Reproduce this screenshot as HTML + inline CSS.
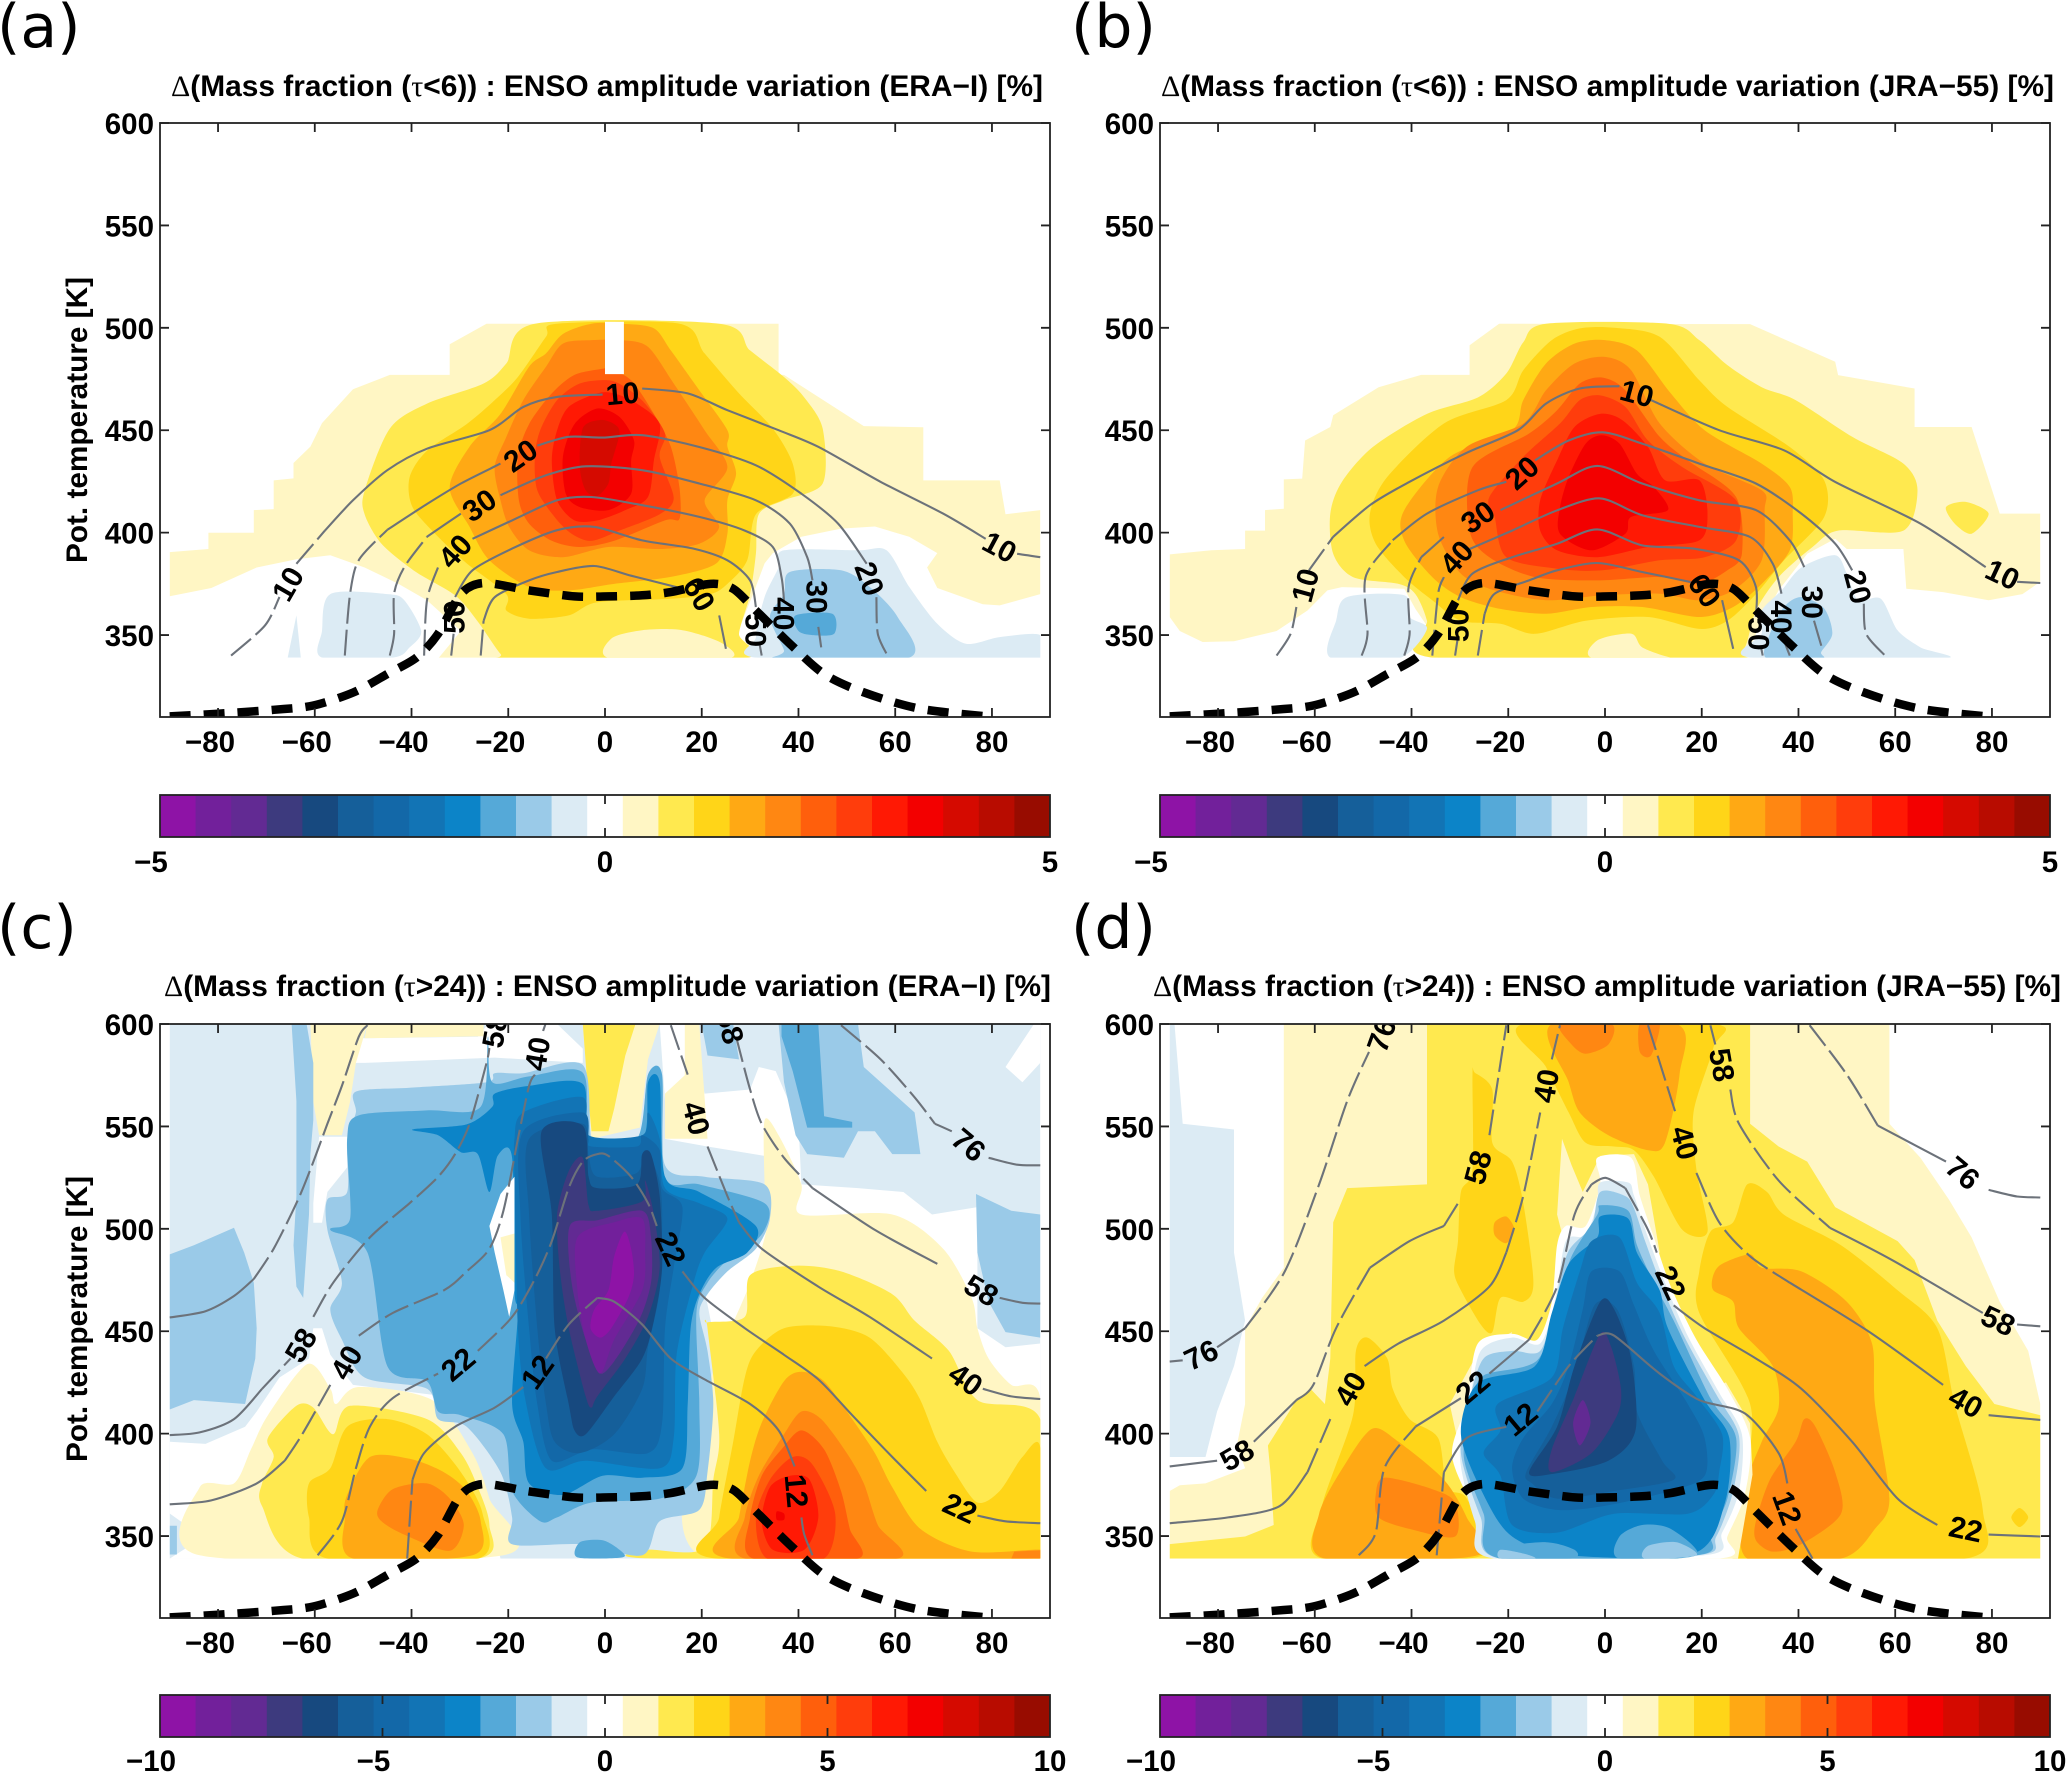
<!DOCTYPE html>
<html lang="en">
<head>
<meta charset="utf-8">
<title>ENSO amplitude variation of mass fraction</title>
<style>
html,body{margin:0;padding:0;background:#fff;}
svg{display:block;}
text{font-family:"Liberation Sans",sans-serif;font-weight:700;fill:#000;}
.tick{font-size:29.5px;}
.ttl{font-size:29.5px;}
.sym{font-family:"Liberation Serif",serif;font-weight:400;}
.ltr{font-family:"DejaVu Sans",sans-serif;font-weight:400;font-size:60px;}
.cl{font-size:30px;}
</style>
</head>
<body>
<svg id="figure" xmlns="http://www.w3.org/2000/svg" width="2067" height="1776" viewBox="0 0 2067 1776">
<rect width="2067" height="1776" fill="#fff"/>
<g id="panel-a">
<text class="ltr" x="-3" y="47">(a)</text>
<text class="ttl" x="171" y="96" textLength="872" lengthAdjust="spacingAndGlyphs"><tspan class="sym">Δ</tspan>(Mass fraction (<tspan class="sym">τ</tspan>&lt;6)) : ENSO amplitude variation (ERA−I) [%]</text>
<text class="ttl" transform="translate(87,420) rotate(-90)" text-anchor="middle" textLength="286" lengthAdjust="spacingAndGlyphs">Pot. temperature [K]</text>
</g>
<g id="panel-b">
<text class="ltr" x="1071" y="47">(b)</text>
<text class="ttl" x="1161" y="96" textLength="893" lengthAdjust="spacingAndGlyphs"><tspan class="sym">Δ</tspan>(Mass fraction (<tspan class="sym">τ</tspan>&lt;6)) : ENSO amplitude variation (JRA−55) [%]</text>
</g>
<g id="panel-c">
<text class="ltr" x="-3" y="948">(c)</text>
<text class="ttl" x="164" y="996" textLength="887" lengthAdjust="spacingAndGlyphs"><tspan class="sym">Δ</tspan>(Mass fraction (<tspan class="sym">τ</tspan>&gt;24)) : ENSO amplitude variation (ERA−I) [%]</text>
<text class="ttl" transform="translate(87,1319) rotate(-90)" text-anchor="middle" textLength="286" lengthAdjust="spacingAndGlyphs">Pot. temperature [K]</text>
</g>
<g id="panel-d">
<text class="ltr" x="1071" y="948">(d)</text>
<text class="ttl" x="1153" y="996" textLength="908" lengthAdjust="spacingAndGlyphs"><tspan class="sym">Δ</tspan>(Mass fraction (<tspan class="sym">τ</tspan>&gt;24)) : ENSO amplitude variation (JRA−55) [%]</text>
</g>
</svg>
<script>
// ---- shared data ----
const bandColors = ['#8E13A6','#72209B','#622A93','#3D3A7E','#17497F','#155F9A','#1368A8','#1274B5','#0C84C8','#55A9D8','#9ACAE8','#DCEBF4','#FFFFFF','#FFF6C4','#FFE94F','#FFD518','#FFA914','#FF8712','#FF5F0C','#FF3D0C','#FF1904','#F30000','#D50A00','#B80C00','#980C00'];
const latTicks = [-80,-60,-40,-20,0,20,40,60,80];
const thetaTicks = [350,400,450,500,550,600];
const cbarTicksTop = [-5,0,5];
const cbarTicksBottom = [-10,-5,0,5,10];
const tropopauseLat = [-90,-80,-68.5,-60.3,-52,-45,-39,-34.5,-29.8,-25,-15.7,-6.3,0.7,7.7,13.6,21.8,26.5,31.2,38.2,45.3,53.5,65.2,80];
const tropopauseTheta = [310.3,311.6,313.5,315.6,322,331,339,350.6,370,375.4,371.8,368.9,368.9,369.4,371,375,372.6,362,345.8,331,322,314,310];

// ---- filled contour regions: [band index, lat/theta pairs, straight-edge flag] ----
const fillsA = [
[1,[-90,369,-81.4,373,-72,383,-63.8,387,-56.8,389,-49.7,383,-42.7,375,-36.8,367,-29.8,352,-34.5,338.5,28.9,338.5,27.4,351,30.6,370,33,385,34.7,390,40.6,398,48.8,402,55.8,403,62.9,398,68.7,390,66.6,383,68.7,373,78.1,365,81.6,364.5,90,370,90,411,82.8,409,81.6,425.5,65.8,425.5,65.8,451.5,53.5,452,37,477,35.9,477,35.9,502,-24.5,502,-32.1,492,-32.1,477,-44.5,477,-52.1,470,-58.5,453.5,-60.9,442,-64.4,434,-64.4,426.5,-68.5,425.5,-68.5,411.5,-72.6,411,-72.6,400,-82,400,-82,392,-90,390.5],1],
[2,[-14.5,502,-20.4,482.6,-25.1,472.8,-36.8,463,-44.5,450.8,-49.7,420.5,-49.7,409,-46.2,394.6,-39.2,381,-31,369.4,-26.3,356.6,-21.6,340.8,-19.2,338.5,28.3,338.5,27.7,350.7,30,370,31.2,389.7,31.8,409,37,415.8,45,424,45,450.8,41.2,466,37,476,30,489,23.6,502]],
[1,[1.3,338.5,1.3,348.3,7.7,352.4,16,352.4,24.2,346,25.3,338.5]],
[3,[-9.9,502,-12.2,495.6,-18,476,-22.8,464.7,-28.6,453,-36.8,440,-40.4,427,-39.8,412.5,-34.5,398,-28.6,385,-20.4,370,-20.4,362,-15.7,358,-7.5,359.6,-1.6,366,13.6,367.7,21.8,370,25.3,375,29.4,386.5,31.2,409,38.8,419,38.8,433.7,34.7,450.8,27.7,468,20.6,487.5,15.4,502]],
[4,[-2.8,502,-8.7,497,-12.2,487.5,-15.7,481,-21.6,458,-28,442,-32.1,422,-28,402.8,-23.9,386.5,-15.7,373.5,-7.5,371.8,1.9,375,13.6,378.4,23,385,25.3,399.5,25.3,415.8,27.1,429,25.3,442,25.3,450,19.5,469.5,13.6,489,10.1,499.7,3.6,502]],
[5,[-2.8,494,-8.7,492.3,-12.2,481,-16.9,464.7,-20.4,446.7,-22.8,432,-21.6,415.8,-19.8,402.8,-15.7,391.4,-8.7,388,0.7,393,11.3,392,19.5,394.6,23.6,402.8,20.6,415.8,25.3,432,20.6,450,14.2,472.8,8.9,490.7,3.6,494]],
[6,[-0.5,480,-6.3,477,-11,468,-15.7,453,-18,437,-17.8,415.8,-15.7,404.4,-11,396,-5.2,393,1.9,396,12.4,406,15.4,406.8,15.4,422,13.6,442,10.1,458,5.4,474.4,0.7,480]],
[7,[0.7,474.4,-5.2,472.8,-9.9,464.7,-13.4,450,-14.5,437,-14,420.7,-10.4,407.6,-6.9,399.5,-2.8,396,3,401,11.3,409,14.2,417,11.3,437,12.4,448.4,8.3,463,4.2,471]],
[8,[-1.6,468,-7.5,461.4,-9.9,450,-11,435.3,-9.9,415.8,-6.3,406,-1.6,406,4.2,411,8.9,417.4,10.1,435.3,11.3,453,6.6,463,1.9,468]],
[9,[-1.6,460.6,-6.3,453,-8.7,437,-8.1,419,-5.2,412.5,0.7,411,5.4,419,5.4,435,6,445,3,456.5]],
[10,[-1,455,-4.6,451,-5.2,432,-4,420.7,-1.6,418,0.7,424,1.3,433.7,3,448.4,1.9,453]],
[0,[0,477.4,3.9,477.4,3.9,503,0,503],1],
[-1,[-65.6,339,-63.8,359.6,-62.9,339],1],
[-1,[-58.5,339,-58.5,352,-56.8,370,-45,370,-41.5,367,-38,352,-40.4,344,-43.9,339]],
[-1,[33,338.5,31.2,349,33,368.6,35.9,383,37,391.4,52.3,391.4,58.2,391.4,62.9,373.5,68.7,355.5,74.6,345.8,81.6,349,90,350,90,338.5]],
[-2,[35.9,338.5,37,342.5,34.1,358.8,37,370,38.2,380.8,48.8,381.6,54.7,373.5,60.5,358.8,62.9,339]],
[-3,[40,352,39.4,359.6,47,360.4,47.4,350.7,42.9,350]]
];
const fillsB = [
[1,[-21.9,502,-28,491.5,-28,477,-38,477,-46.8,471,-56.2,457.3,-56.8,451.6,-62,445,-62.6,426.4,-66.4,426,-66.4,411.7,-70.3,411,-70.3,401,-74.4,401,-74.4,392,-81.4,391.4,-90,389.4,-90,358.8,-87.9,352,-83.2,346.6,-76.7,347,-67.9,352,-61.5,362,-57.4,371.8,-54.4,373.4,-41.5,372.6,-39.2,362.8,-35.7,350.7,-34.5,338.5,28.9,338.5,32.4,357,35.9,371.8,41.8,389.7,47.6,397,50,392,61.7,392,62.3,372.6,69.9,371,79.3,367,86.3,370,90,376,90,409.3,81.6,409.3,75.8,451.6,64,451.6,64,470.4,48.2,476.9,47.6,483.4,30,501.8],1],
[2,[-12.2,502,-16.9,493,-20.4,477.7,-26.3,466,-36.8,458,-48,441.8,-54.4,424.8,-56.8,409.3,-56.2,389.7,-52.1,378.3,-42.7,375,-39.2,370,-36.8,357,-35.7,339,25.3,338.5,28.9,344,31.2,362,35.9,378.3,42.9,393,48.2,401,61.7,401,64.6,420.7,61.7,433.7,51.1,446.8,39.4,464.7,32.4,471,25.3,481.8,19.5,494,13,502]],
[2,[70.5,412.5,74.6,415,79.3,409.3,75.8,399.5,72.3,404.4]],
[1,[-2.2,338.5,-1.6,347.4,5.4,350.7,7.7,344,13.6,339,18.3,338.5]],
[3,[1.9,500,-5.2,499.7,-11,494,-16.9,479.3,-20.4,464.7,-33.3,453.3,-45,427.2,-48.6,409.3,-47.4,394.6,-41.5,378.3,-35.7,367,-29.8,357,-21.6,355.5,-14.5,350.6,-4,357,8.9,358.8,19.5,353,25.3,357,31.2,370,37,386.5,45.3,407.6,45.3,425.6,38.2,441.8,25.3,461.4,19.5,474.4,11.3,495.6]],
[4,[0,494,-6.3,492.3,-12.2,482.6,-16.9,464.7,-19.2,450,-32.1,437,-41.5,411,-41.5,396,-35.7,378.3,-29.8,368.5,-21.6,362.8,-12.2,360.4,-2.8,363.7,7.7,363.7,19.5,358.8,26.5,363.7,32.4,375,38.2,391.4,38.8,409.3,38.2,422.3,32.4,433.7,20.6,450,13.6,468,6.6,489]],
[5,[0,485.8,-6.3,482.6,-12.2,469.5,-16.9,453.3,-28.6,441.9,-34.5,422.3,-34.5,399.5,-29.8,380,-22.8,371.8,-12.2,367,-0.5,369.4,11.3,370.2,19.5,367,26.5,371.8,32.4,386.5,33,411,32.4,420.7,20.6,433.7,11.3,453.3,5.4,479.3]],
[6,[-0.5,475.7,-5.2,472.8,-9.9,459.8,-15.7,448.4,-27.4,432,-28,401,-23.9,388,-14.5,378.3,-1.6,376.7,11.3,378.3,19.5,375,25.3,381.6,28.3,389.7,27.1,417.4,17.1,435.3,11.3,446.8,4.2,469.5]],
[7,[-1,467,-5.2,464.7,-9.3,453.3,-16.9,437,-23.9,417.4,-22.8,407.6,-20.4,388,-9.9,382.4,-0.5,381.6,11.3,386.5,20.6,388,27.1,396.2,27.1,415.8,16,432,8.9,445,4.2,461.4]],
[8,[-1,458,-6.3,451.6,-9.9,435.3,-13.4,415.8,-13.4,401,-9.9,391.4,-1.6,388,8.9,393,19.5,396.2,21.2,409.3,19.5,425.6,12.4,425.6,8.9,441.8,3.6,454.9]],
[9,[-0.7,447.6,-4,443.5,-7.5,427.2,-9.3,412.5,-9.3,399.5,-2.8,391.4,4.2,399.5,5.4,407.7,13,411,10.1,422.3,6.6,428.8,3,443.5]],
[-1,[-56.8,339,-55.6,357,-53.3,368.6,-41.5,369.4,-40.4,358.8,-36.8,353,-42.7,338.5]],
[-1,[30,339,32.4,350.7,32.4,362,36.5,371.8,40.6,383,47.6,389,50,380,52.3,367,57,367.8,60.5,352.3,65.2,344,69.9,338.5]],
[-2,[33.5,338.5,34.1,350.6,37,363.7,40.6,368.6,45.3,363,47,350.6,44.7,341.7,44.7,338.5]]
];
const fillsC = [
[-1,[-90,339,90,339,90,600,-90,600],1],
[0,[-90,396,-82.6,395,-74.4,403.4,-72,410.8,-67.3,427.4,-61.2,436.7,-60.3,451.5,-58.5,451.5,-56.8,438.5,-52.1,423.8,-35.7,419,-32.1,405.3,-29.8,394,-24.5,368.3,-21.6,339,-90,339],1],
[-1,[-90,361,-85.5,353.5,-86.7,344,-90,339],1],
[-2,[-90,355,-88.5,355,-88.5,341,-90,341],1],
[0,[-59.1,545,-53.3,545,-53.3,530,-57.4,518,-58.5,503,-60.3,503,-60.3,512.5],1],
[0,[-50.9,593,-26.3,593.8,-24.2,600,-9.9,600,-4.6,588,-4.6,581,-22.8,583.6,-49.7,581,-51.8,581],1],
[0,[11.3,600,17.1,600,20.6,566,30,568,31.8,579,35.3,577,40,551.3,40.6,521.7,52.3,519.9,61.7,518,67.6,507,77,510.6,77,495.8,77,451.5,82.8,442.2,90,444,90,414.5,25.3,414.5,20.6,470,33,499.5,33,535.6,21.2,540.2,12.4,543.9,12.4,562.4],1],
[0,[88.7,600,90,600,90,581,86.3,571.6,82.8,579],1],
[1,[-49.1,600,-25.1,600,-25.1,594,-49.7,593],1],
[1,[-60.9,600,-49.1,600,-51.5,581,-52.7,562,-54.4,545.7,-59.1,545.7,-60.3,562],1],
[-2,[-64.8,600,-61.7,600,-60.3,581,-60.3,553,-60.9,536.5,-61.2,507,-62.4,466.3,-63.8,471.8,-64.4,492,-63.8,516,-63.8,562.4],1],
[-2,[-90,487.5,-85,492,-76.7,500.5,-74.6,488.4,-72.6,473.7,-72,451.5,-72.3,436.7,-74.4,414.5,-85,416.4,-90,411.8],1],
[1,[-4.6,600,11.3,600,8.9,582.7,7.2,549.4,-2.8,543.9,-3.4,562.4],1],
[2,[-4.6,600,6.3,600,4.2,584.6,1.9,558.7,0.7,547.6,-2.8,547.6,-3.4,562.4],1],
[1,[16.5,600,19.5,600,20.6,564,21.2,544,12.4,544,12.4,566,16.5,575],1],
[-2,[35.9,600,52.3,600,53.5,579,60.5,564.2,64,556.8,65.2,536.5,59.4,536.5,55.8,547.6,52.3,547.6,49.4,534.7,41.8,536.5,39.4,545.7,37,571.6],1],
[-3,[36.5,600,44.1,600,45.3,555,51.1,552.2,51.1,549.4,41.8,549.4,38.8,577,36.5,594],1],
[-2,[20,600,26.5,600,27.7,582.7,21.2,584.6],1],
[-2,[76.7,517,84,508.8,90,507,90,446.9,82.8,449.6,79.3,464.4,77,488.4],1],
[1,[33,553,35.9,545.7,40.6,521.7,40.6,507,59.4,507,69.9,490.3,75.8,466.3,77,451.5,79.3,436.7,84,423.8,90,417.3,90,339,20.6,339,20.6,414.5,30,473.7,33.5,501.4,33,521.7]],
[2,[30,477.4,39.4,482,48.8,479.2,59.4,468.1,64,455.2,71.1,440.4,77,416.4,90,407.1,90,339,10.1,339,8.9,343.3,20.6,344.3,22.4,377.5,23.6,399.7,21.2,451.5,21.2,454.3,28.9,457]],
[3,[28.9,427.4,31.2,440.4,37,451.5,46.5,452.4,54.7,446.9,61.7,429.3,65.2,416.4,68.7,396,72.3,381.2,77,366.4,81.6,372,86.3,388.6,90,393.3,90,339,23,339,23.6,359.1,26.5,396]],
[4,[32.4,405.3,37,425.6,40.6,430.2,45.3,425.6,51.1,407.1,55.8,390.5,59.4,373.8,65.2,353.5,75.8,342.4,90,343.3,90,339,25.9,339,27.7,359.1,30,386.8]],
[5,[84,339,84.6,342.4,90,343,90,339],1],
[5,[37,399.7,40.6,410.8,44.7,407.1,50,390.5,53.5,375.7,56.4,355.4,60.5,339,28.9,339,28.9,359.1,31.8,379.4]],
[6,[36.5,392.3,40.6,401.6,45.3,392.3,48.8,372,50.6,353.5,52.3,339,30.6,339,30,359.1,32.4,379.4]],
[7,[38.8,388.6,42.9,384.9,47.6,360.9,45.3,339,33.5,339,31.2,359.1,34.1,377.5]],
[8,[38.2,379.4,42.3,377.5,44.1,359.1,41.2,343.3,34.7,343.3,32.4,357.2,34.1,373.8]],
[9,[35.5,362,37,361,37,358,35.5,358]],
[1,[-83.8,340.6,-83.8,373.8,-76.7,375.7,-73.2,392.3,-69.7,409,-61.5,434,-56.8,421.9,-55.6,414.5,-50.9,422.8,-35.7,416.4,-27.4,390.5,-23.9,368.3,-21,340.6]],
[2,[-69.7,397.9,-63.8,413.6,-60.3,412.7,-56.2,399.7,-52.7,413.6,-36.8,407.1,-29.8,390.5,-26.3,373.8,-23.9,355.4,-26.3,339,-62.6,339,-70.9,364.6,-70.9,375.7,-68.5,388.6]],
[3,[-61.2,375.7,-56.8,383.1,-53.3,403.4,-45,407.1,-36.8,399.7,-29.8,381.2,-25.3,360.9,-26.3,339,-57.4,339,-61.2,359.1]],
[4,[-53.3,370.1,-48.6,388.6,-40.4,387.7,-33.3,381.2,-28.6,372,-25.7,357.2,-27.4,340.6,-52.1,339,-53.8,359.1]],
[5,[-47,362.8,-43.9,372.9,-36.8,375.7,-32.1,368.3,-29.2,355.4,-32.1,342.8,-41.5,350.7,-46.2,357.2]],
[-2,[-51.5,567,-40.4,568.9,-24.5,571.6,-22.8,576,-16.9,576,-4.6,580,-2.8,543.9,0.7,540.2,6.6,542,7.7,549.4,8.9,575.3,11.3,575.3,12.4,531,20.6,525.4,33,521.7,34.1,505,31.2,490.3,25.3,479.2,21.2,468.1,19.5,458.9,21.2,440.4,22.4,414.5,21.2,381.2,19.5,362.8,11.3,357.2,7.7,340.6,-5,346,-19.2,346,-19.2,359.1,-21.6,381.2,-28.6,403.4,-34.5,407.1,-36.8,421.9,-49.7,427.4,-54.4,445.9,-56.8,460.7,-54.4,473.7,-57.4,499.5,-57.4,514.3,-53.3,518,-53.3,543.9,-51.5,556.8]],
[-3,[-50.9,555.4,-36.8,557.8,-25.7,559.6,-24.2,593.8,-23.3,571.6,-15.7,574.4,-4.6,576.2,-3,543.9,6.6,543.9,8.9,575.3,11.8,575.3,12.4,525.4,19.5,521.7,33,512.5,33,499.5,27.7,486.6,25.3,484.8,21.2,473.7,18.9,458.9,19.5,414.5,18.9,379.4,11.3,368.3,-2.8,366.4,-9.9,359.1,-13.4,357.2,-19.2,372,-21,399.7,-29.8,409,-34.5,410.8,-36.8,425.6,-45,433,-49.1,488.4,-56.8,499.5,-52.7,505,-53.3,543.9]],
[-3,[-5.7,339.6,-5.2,347,-0.5,348,3,343.3,3.6,339.6]],
[-4,[-39.8,548.5,-28.6,551,-23.3,559.6,-22.8,566,-15.7,569.8,-4.6,570.7,-3.4,543.9,7.7,543.9,8.9,571.6,11.3,571.6,12.4,525.4,19.5,518,31.2,501.4,29.4,488.4,23,481,19.5,468.1,17.7,451.5,17.1,414.5,16,383.1,7.7,378.5,-0.5,379.4,-8.7,370.1,-15.7,375.7,-16.9,396,-19.2,414.5,-18,458.9,-18.7,470,-19.2,534.7,-22.2,535.6,-23.9,518,-26.3,536.5,-29.8,537.4,-34.5,545.7]],
[-5,[-16.9,556.8,-4.6,564.2,-3.4,545.7,7.7,545.7,8.9,556.8,11.3,543.9,12.4,519.9,19.5,512.5,25.3,505,20.6,488.4,18.3,473.7,14.8,438.5,14.2,397.9,11.3,383.1,-4,386.8,-12.2,383.1,-16.3,414.5,-18,451.5,-18.7,525.4,-18.7,543.9]],
[-6,[-16.9,547.6,-4.6,556.8,-3.4,543.9,-2.8,540.2,6.6,540.2,7.7,545.7,11.3,538.4,11.8,519.9,16,510.6,14.2,481,12.4,451.5,11.8,405.3,8.9,390.5,-2.8,392.3,-11,386.8,-14,414.5,-15.7,451.5,-17.5,507]],
[-7,[-15.7,543.9,-4.6,551.3,-3.4,535.6,-1.6,525.4,6.6,527.3,8.3,538.4,11,525.4,11.8,508.8,11.3,470,8.9,442.2,7.7,421.9,1.9,399.7,-5.2,390.5,-10.4,396,-12.2,414.5,-14,451.5,-15.7,507]],
[-8,[-13.1,547.6,-4.6,550.4,-3.4,525.4,-1.6,519.9,6.6,521.7,7.7,536.5,9.5,536.5,11.3,516,11.8,481,10.1,455.2,7.7,436.7,1.9,418.2,-4,399.7,-6.3,401.6,-7.5,414.5,-10.4,451.5,-11,507]],
[-9,[-7.5,528.2,-4.6,534.7,-3.4,511.6,-1.6,508.8,7.7,513.4,8.3,523.6,10.1,507,11.3,481,8.9,457,4.2,436.7,-1.6,418.2,-2.8,412.7,-4,418.2,-7.5,451.5,-9.3,479.2,-9.9,507]],
[-10,[-7.3,501.4,-1.6,504.2,7.7,508.8,9.5,495.8,9.5,473.7,6.6,453.3,-0.5,429.3,-4,445.9,-6.9,473.7]],
[-11,[-5.7,495.8,1.9,503.2,7.7,505,8.3,488.4,7.7,470,1.9,445.9,-1,429.3,-4,445.9,-5.7,470]],
[-12,[4,498.6,1.9,486.6,0.7,470,-2.2,460.7,-3,451.5,-1,446.9,1.3,451.5,4.8,466.3,6,477.4,5.4,490.3]],
[0,[-21.6,517,-18.7,525.4,-18.7,470,-19.8,457,-21,470,-22.8,488.4,-23.9,501.4],1],
[1,[-21.6,495.8,-18.7,497.7,-18.7,473.7,-20.4,477.4],1]
];
const fillsD = [
[-1,[-90,599.4,-89,600,-87.3,551.3,-76.7,548.5,-76.7,488.4,-74.4,455.2,-76.7,433,-80.2,410.8,-82.6,388.6,-90,388.6],1],
[1,[-66.4,600,-66.4,481,-70.9,466.3,-74.4,451.5,-74.4,414.5,-76.1,394.2,-74.4,383.1,-82.6,375.7,-87.9,374.8,-90,372,-90,339,90,339,90,414.5,87.5,440.4,81.6,464.4,75.8,495.8,71.1,514.3,65.2,534.7,58.8,551.3,58.8,600],1],
[2,[-36.8,600,30,600,30,551.3,35.9,540.2,41.8,532.8,47.6,510.6,60.5,494,64,484.8,68.7,455.2,74.6,433,80.5,414.5,90,409,90,339,-90,339,-90,346.1,-74.4,349.8,-68.5,355.4,-69.1,379.4,-69.7,394.2,-63.8,416.4,-60.9,421.9,-57.9,414.5,-56.8,436.7,-56.2,503.2,-53.3,519.9,-36.8,521.7],1],
[3,[-16.9,600,-12.2,579,-7.5,556.8,-4,542,1.9,540.2,6,538.4,10.1,525.4,16,499.5,21.2,498.6,18.9,529,18.3,556.8,22.4,588.3,22.4,600]],
[3,[29.4,521.7,33.5,518,37,506.9,48.8,492,60.5,470,68.7,451.5,72.3,414.5,78.1,362.8,74.6,339,26.3,339,28.9,377.5,30,414.5,19.5,458.9,19.5,479.2,21.8,498.6,26.5,503.2]],
[3,[-26.9,576.2,-23.3,567.9,-23.3,542,-19.2,532.8,-16.9,512.5,-14.8,473.7,-16.9,464.4,-21.6,466.3,-23.3,449.6,-25.7,453.3,-29.8,470,-31.2,479.2,-30.4,494,-29.8,518,-27.4,529,-27.4,575.3]],
[3,[-49.1,446.9,-45,436.7,-43.9,421.9,-40.4,407.1,-34.5,397.9,-32.7,373.8,-28.6,368.3,-25.1,340.6,-58.5,339,-58.5,364.6,-52.1,409,-51.5,440.4]],
[4,[-11,600,14.8,600,15.4,575.3,12.4,542,8.9,538.4,0.7,545.7,-5.2,556.8,-7.5,571.6]],
[4,[22.4,477.4,24.2,482.9,30,487.5,32.4,481,40.6,479.2,50,464.4,55.2,444,55.8,414.5,58.8,368.3,55.8,353.5,48.8,339,29.4,339,28.9,372,32.4,396,35.9,412.7,34.7,433,27.7,451.5,26.5,464.4,22.4,470]],
[4,[-22.8,503.2,-20.4,506,-18.7,499.5,-20.4,493,-22.8,496.8]],
[4,[-48,402.5,-42.7,396,-33.3,377.5,-28.6,359.1,-26.3,340.6,-57.9,339,-59.1,360.9,-53.3,386.8]],
[5,[-9.3,600,1.3,600,0.7,590,-4,585.5,-6.9,590]],
[5,[7.2,600,11.3,600,9.5,584.6,7.2,586.4]],
[5,[-47.4,370.1,-45.6,378.5,-35.7,372.9,-31,366.4,-31,349.8,-40.4,353.5,-46.8,359.1]],
[5,[41.2,407.1,43.5,403.4,47.6,381.2,48.8,360.9,40.6,346.1,34.7,342.4,31.2,348,31.2,357.2,34.1,377.5,39.4,396]],
[3,[85.7,363.7,87.5,359.1,85.7,354.4,84,359.1]],
[1,[-8.9,544,-6.9,531,-4.6,518,-1,535.6,6,536.5,8.9,521.7,11.3,488.4,-7.5,484.8,-9.9,507],1],
[1,[-32.1,414.5,-25.7,442,-19.2,449.6,-25,395,-28,370],1],
[1,[25,425,30,405,30.5,380,27.5,339,20,339,20,420],1],
[0,[-1.6,534.7,5.4,534.7,7.2,516.2,10.1,495.8,13.6,471.8,18.9,445.9,25.3,421.9,30,397.9,28.9,370.1,25.3,349.8,23.6,339,-21.6,339,-25.7,357.2,-31.6,388.6,-28.6,414.5,-26.3,444,-19.2,448.7,-14,445.9,-11,464.4,-9.9,492.1,-8.1,501.4,-4,501.4,-1,521.7]],
[-1,[-1,522.6,4.8,522.6,6,516.2,8.9,495.8,12.4,473.7,17.1,447.8,23.6,420,28.3,399.7,27.7,372,24.2,351.7,20.6,340.6,-22.8,339,-26.9,357.2,-30,388.6,-28,414.5,-25.7,440.4,-19.2,446.9,-13.4,444,-10.4,464.4,-8.1,494,-4,496.8,-1.6,512.5]],
[-2,[-1,518,4.2,516,6,510,8.3,494,11.8,471.8,16.5,446.9,23,419.1,27.7,398.8,26.5,372,23,349.8,18.9,340.6,-21.6,339,-25.7,359.1,-29.8,390.5,-28,416.4,-25.1,436.7,-19.2,440.4,-13.4,440.4,-10.4,462.6,-7.7,488.4,-2.8,501.4]],
[-3,[-1,511.5,4.8,508.8,6.6,492.1,10.1,473.7,14.2,455.2,21.8,417.3,27.1,397.9,25.3,368.3,21.8,351.7,18.9,340.6,-21.6,339,-25.1,360.9,-29.2,388.6,-27.4,414.5,-25.1,428.4,-14,435.8,-9.9,464.4,-6.9,486.6,-1.6,506.9]],
[-4,[-1,506,4.8,505,6.6,488.4,11.3,470,13,451.5,20.6,416.4,25.7,397.9,24.8,366.4,18.3,341.5,-7.5,340.6,-19.2,349.8,-25.1,370.1,-29.8,399.7,-26.3,424.7,-14.5,433,-11,458.9,-7.5,482.9,-1.6,495.8]],
[-3,[3,339,3,349.8,7.7,355.4,13.6,353.5,18.9,340.6]],
[-2,[8.3,339,8.9,345.2,14.8,347,18.9,340.6]],
[-3,[-20.4,339,-21.6,344.3,-12.2,347,-6.3,343.3,-6.9,339]],
[-2,[-21.6,339,-21.6,343.3,-16.9,341.5,-14.5,339]],
[-5,[-2.8,494,3,495.8,6.6,473.7,11.3,458.9,14.2,433,18.9,418.2,24.2,399.7,23.6,381.2,22.4,370.1,17.1,360.9,1.9,360.9,-9.9,351.7,-19.2,355.4,-21.6,379.4,-25.1,390.5,-21.6,401.6,-22.2,414.5,-11,427.4,-8.7,451.5,-5.2,479.2]],
[-6,[-2.8,479.2,3,479.2,6,462.6,10.1,440.4,17.1,414.5,20.6,397.9,20.6,379.4,13.6,372,-0.5,364.6,-9.9,362.8,-16.9,368.3,-19.2,383.1,-16.9,397.9,-11,414.5,-7.5,433,-4.6,460.7]],
[-7,[-2.2,462.6,2.5,460.7,6,433,6.6,410.8,11.8,386.8,14.2,377.5,1.9,372,-9.9,368.3,-15.1,375.7,-16.3,381.2,-11,403.4,-6.3,429.3]],
[-8,[-1,464.4,1.9,460.7,5.4,436.7,6.3,401.6,0.7,386.8,-11,380.3,-15.7,381.2,-9.9,403.4,-6.3,433]],
[-9,[-1,448.7,1.3,442.2,3.3,421.9,2.5,409,-2.8,390.5,-11,381.2,-11,392.3,-6.3,418.2]],
[-10,[-4.6,416.4,-3,405.3,-5.2,394.2,-6.6,405.3]]
];

// ---- contour lines: [value, dashed flag, lat/theta pairs] ----
const linesA = [
[10,1,[-77.3,340,-70.3,354.7,-67.3,368.6]],[10,1,[-63.8,384.8,-57.9,401]],
[10,0,[-57.9,401,-52.1,415.8,-45,430.5,-36.8,441,-23.9,450,-16.9,461.4,-9.9,466.3,-0.5,467.4]],
[10,0,[7.7,470.4,17.1,468,25.3,459.8,35.9,450,44.1,441.9,57,424.8,69.9,409.3,78.7,397]],[10,0,[85.2,389.7,90,388]],
[20,1,[-53.8,340,-52.7,370.2,-50.9,386.6,-45,401.4]],[20,0,[-45,401.4,-36.8,414,-29.8,424,-21.6,433.7]],
[20,0,[-14,442.5,-7.5,446.8,-0.5,446.4,7.7,447.6,19.5,441.8,31.2,432.9,40.6,419,48.2,404.4,54.1,384.8]],[20,1,[56.1,368.5,56.4,350.6,58.4,340]],
[30,1,[-44.5,340,-43.6,350.6,-43.6,370.2,-41.5,383.2,-36.8,398]],[30,0,[-36.8,398,-29.8,409.3]],
[30,0,[-21.6,418.3,-12.2,428,-4,432.4,7.7,430.5,19.5,424,31.2,415.8,38.2,404.4,41.8,388,42.9,376.7]],[30,1,[44.1,354,44.7,344]],
[40,1,[-37.4,340,-36.8,367,-34.5,383.2]],
[40,0,[-27.4,397,-19.2,406,-9.9,415.8,-2.8,417.4,7.7,413.4,19.5,407.7,28.9,401,34.7,393,36.5,378.3,37,367]],[40,1,[37.7,347.4,38,344]],
[50,1,[-31.8,340,-31.3,350.6]],
[50,0,[-31,368.6,-27.4,381.6,-19.2,392.2,-9.9,401.2,-2.2,402.8,7.7,396.2,18.3,392.2,25.3,386.5,30,376.7,31.2,363.7]],[50,1,[32.4,340,32,345]],
[60,1,[-25.7,340,-25.1,357]],
[60,0,[-25.1,357,-22.8,368.5,-15.7,376.7,-9.9,380.8,-2.2,383.7,5.4,379,14.8,373.4]],[60,0,[23.6,359.6,25,343.3]]
];
const linesB = [
[10,1,[-67.9,340,-65,350.6,-63.8,363.7]],[10,1,[-61.2,381.6,-56.2,398]],
[10,0,[-56.2,398,-48.6,413.4,-40.9,424.2,-28.6,439,-18,450,-12.2,463,-5.2,470.4,3,471.5]],
[10,0,[9.5,464.7,23.6,450,37,440.2,47.6,424.8,65.2,404.4,78.7,383.2]],[10,0,[85.2,376,90,375.4]],
[20,1,[-50.3,340,-49.1,350.6,-49.5,378.3,-43.9,396.3]],[20,0,[-43.9,396.3,-36.8,409.3,-26.3,420.7,-20.4,424.8]],
[20,0,[-14.5,435.3,-7.5,445,-0.5,449,7.7,443.5,19.5,433.7,31.2,424,40.6,409.3,47.6,394.6,51.1,381.6]],[20,1,[53.5,365.3,54,350.6,57.9,340]],
[30,1,[-41.5,340,-40.4,350.6,-40.6,373.5,-38,388]],[30,0,[-38,388,-33.3,397.9]],
[30,0,[-21.6,411,-9.9,424,-1.6,432.6,7.7,424,19.5,415.8,31.2,411,38.2,396.2,41.2,383.2]],[30,1,[43.2,357,45,342.5]],
[40,1,[-35.7,340,-34.5,370.2,-33.3,378.3]],
[40,0,[-28,392,-19.2,401,-9.9,410.9,-1,416.7,7.7,408.5,19.5,402.8,30,397.9,34.7,384.8,36.5,370.2]],[40,1,[37,347.4,38.2,340]],
[50,1,[-31,340,-30.4,349]],
[50,0,[-30.4,367,-27.4,380,-19.2,388,-9.9,394.6,-1.6,401.6,7.7,393.8,18.3,392.2,27.7,386.5,31.2,373.5,31.2,358.8]],[50,1,[32.6,340,32.2,345]],
[60,1,[-26.3,340,-24.9,360.4]],
[60,0,[-24.9,360.4,-22.8,370.2,-15.7,376.7,-9.9,381.6,-1.6,385.2,7.7,380.8,17.7,375.9]],[60,0,[24.2,367,26.5,343.3]]
];
const linesC = [
[76,0,[-90,456.7,-82.6,459.8,-76.7,467.2,-72.6,475.5]],
[76,1,[-72.6,475.5,-68.5,490.3,-63.8,512.5,-60.9,529,-57.4,551.3,-54.4,569.8,-50.9,593.8,-49.1,599.4]],
[58,0,[-90,399.3,-83.8,400.6,-76.7,407.1,-70.9,421.9]],[58,1,[-70.9,421.9,-65,436.7]],
[58,1,[-60.3,457,-56.2,473.7,-48.6,495.8,-40.4,512.5,-34.5,525.4,-31,536.5,-28,551.3,-24.5,580.9,-23.9,588.3]],
[40,0,[-90,365.5,-81.4,367.4,-72,375.7,-66.2,386.8]],[40,1,[-66.2,386.8,-62.6,399.7,-56.8,423.8]],
[40,1,[-50.9,447.8,-43.9,458.9,-33.3,470,-28.6,479.2,-23.9,490.3,-21,508.8,-18,543.9,-15.7,569.8,-14.5,575.3]],[40,1,[-12.8,596.6,-12.3,600]],
[22,1,[-59.4,340.6,-54.4,357.2,-51.5,383.1,-48.6,403.4,-43.9,417.3,-34.5,429.3]],
[22,1,[-26.3,440.4,-19.2,457,-14.5,475.5,-11,494,-7.5,519.9,-4.6,532.8,-1.6,536.5,0.7,535.6,5.4,525.4,8.9,512.5,10.7,501.4]],
[22,0,[16,479.2,20.6,466.3,28.9,451.5,37,438.5,44.1,426.5,51.1,409,59.4,388.6,66.4,372]],[22,0,[77,360,82.8,357.2,90,356.3]],
[12,1,[-40.9,339,-39.8,377.5]],[12,0,[-39.8,377.5,-37.4,390.5,-31,403.4,-22.8,412.7,-16.9,422.8]],
[12,1,[-12.2,436.7,-7.5,453.3,-1.6,466.3]],[12,0,[-1.6,466.3,1.9,464.4,7.7,453.3,13.6,436.7,20.6,426.5,30,414.5,35.9,401.6,39.2,384]],[12,0,[40.6,359.1,41.2,350.7,42.9,340.6]],
[40,1,[13.6,599.4,17.1,575.3]],[40,1,[21.2,540.2,25.3,516,27.7,503.2]],[40,0,[27.7,503.2,32.4,490.3,44.1,471.8,54.7,457,67.6,436.7]],[40,0,[78.1,421.9,84,418.2,90,416.9]],
[58,1,[27.1,593.8,30,568,32.4,551.3,37,534.7,42.9,519.9]],[58,0,[42.9,519.9,55.8,499.5,68.7,482.9]],[58,0,[81.6,466.3,86.3,463.9,90,463.5]],
[76,1,[48.8,599.4,57,582.7,64,564.2,68.2,551.3]],[76,0,[68.2,551.3,71.7,547.6]],[76,0,[79.3,534.7,85.2,531.3,90,531]]
];
const linesD = [
[76,0,[-90,435.2,-87.3,435.8]],[76,0,[-80.2,442.2,-74.4,451.5]],
[76,1,[-74.4,451.5,-66.2,479.2,-59.1,521.7,-53.3,562.4,-48.8,586.4]],
[58,0,[-90,384,-80.2,386.8]],[58,0,[-72.6,396,-63.8,416.4]],[58,1,[-63.8,416.4,-60.3,423.8,-55.6,451.5,-48.6,481]],[58,0,[-48.6,481,-40.4,494,-33.3,501.4]],[58,1,[-33.3,501.4,-30.4,512.5]],[58,1,[-23.9,545.7,-20.4,599.4]],
[40,0,[-90,356.3,-77.9,359.1,-67.3,364.6,-61.5,381.2]],[40,1,[-61.5,381.2,-56.8,407.1]],[40,0,[-49.7,433,-42.7,444,-33.3,455.2,-23.9,471.8,-20.4,488.4]],[40,1,[-20.4,488.4,-16.9,516.2,-13.4,556.8]],[40,1,[-11,582.7,-9.3,599.4]],
[22,1,[-50.9,340.6,-47.4,351.7,-45.6,383.1,-39.2,403.4]],[22,0,[-39.2,403.4,-29.8,417.3]],[22,0,[-23.9,429.3,-15.7,445.9]],[22,1,[-15.7,445.9,-9.9,471.8,-6.3,506.9,-2.8,521.7]],[22,0,[-2.8,521.7,0.1,524.9,4.2,519.9]],[22,1,[4.2,519.9,8.9,499.5,10.7,488.4]],
[22,0,[14.2,462.6,20.6,451.5,31.2,436.7,40.6,421.9,51.1,396,60.5,368.3,68.7,355.4]],[22,0,[79.3,350.7,90,349.8]],
[12,1,[-34.8,340.6,-33.3,381.2]],[12,0,[-33.3,381.2,-28.6,397.9,-20.4,403.4]],[12,1,[-14,410.8,-7.5,433,-1.6,447.8]],[12,0,[-1.6,447.8,1.9,447.8,11.3,429.3,19.5,416.4,28.9,409.9,35.9,390.5,37.7,375.7]],[12,0,[39.4,353.5,42.9,339]],
[40,1,[8.9,599.4,14.8,555]],[40,1,[18.9,527.3,23.6,503.2,30,486.6,38.2,473.7]],[40,0,[38.2,473.7,54.7,449.6,69.9,423.8]],[40,0,[79.3,409,90,406.7]],
[58,1,[21.8,599.4,22.8,590]],[58,1,[25.9,568,27.7,551.3,35.9,523.6,46.5,500.5]],[58,0,[46.5,500.5,59.4,484.7,78.1,458.9]],[58,0,[85.2,453.3,90,452.4]],
[76,1,[42.3,599.4,50,575.3,56.4,550.4]],[76,0,[56.4,550.4,70.5,532.8]],[76,0,[79.3,519,85.2,515.8,90,515.3]]
];

// ---- contour labels: [text, lat, theta, rotation] ----
const labelsA = [['10',-65.6,375,-60],['20',-17.5,437.7,-35],['30',-26,413.4,-35],['40',-31,391,-48],['50',-31.2,358.8,-90],['60',19.5,370,60],['10',3.6,468,-5],['10',81.6,393,28],['20',54.7,377.5,70],['30',43.8,368.6,90],['40',37,360.4,90],['50',31.2,352.3,90]];
const labelsB = [['10',-62,374.3,-75],['20',-17.2,429.3,-42],['30',-26.3,407.7,-35],['40',-30.7,388,-48],['50',-30.4,354.7,-90],['60',20.6,371.8,55],['10',6.6,468,15],['10',82.2,379.6,25],['20',52.3,373.5,75],['30',42.9,366,90],['40',36.5,358.8,90],['50',31.8,350.6,90]];
const labelsC = [['58',-62.9,443.2,-60],['40',-53.5,434.8,-60],['22',-30.4,433.9,-40],['12',-14,430.2,-55],['58',-22.8,596.6,-80],['40',-14,585.5,-80],['22',13.6,490.3,65],['22',73.4,363.7,25],['12',39.6,372,85],['40',74.6,426.5,35],['58',77.8,470,30],['76',75.2,541,40],['40',18.9,554,75],['58',25.9,598.5,75]];
const labelsD = [['76',-83.5,438.5,-25],['76',-46.2,594.7,-70],['58',-76.1,389.6,-30],['58',-26.3,530,-75],['40',-52.7,421.9,-60],['40',-12.2,569.8,-80],['22',-27.4,422.8,-40],['12',-17.5,407.1,-40],['22',13.6,473.7,65],['22',74.6,353.5,12],['12',37.7,363.7,70],['40',74.6,415.4,30],['58',81.3,455.2,25],['76',74,527.3,40],['40',16.5,542,75],['58',24.2,580,80]];

const SVGNS = 'http://www.w3.org/2000/svg';
function make(tag, attrs, parent){
  const el = document.createElementNS(SVGNS, tag);
  for (const k in attrs) el.setAttribute(k, attrs[k]);
  parent.appendChild(el);
  return el;
}
function smoothPath(p, closed, straight){
  const n = p.length;
  let d = 'M' + p[0][0].toFixed(1) + ' ' + p[0][1].toFixed(1);
  if (straight){
    for (let i = 1; i < n; i++) d += 'L' + p[i][0].toFixed(1) + ' ' + p[i][1].toFixed(1);
    return closed ? d + 'Z' : d;
  }
  const at = i => closed ? p[(i + n) % n] : p[Math.max(0, Math.min(n - 1, i))];
  const last = closed ? n : n - 1;
  for (let i = 0; i < last; i++){
    const a = at(i - 1), b = at(i), c = at(i + 1), e = at(i + 2);
    const k = 7;
    d += 'C' + (b[0] + (c[0] - a[0]) / k).toFixed(1) + ' ' + (b[1] + (c[1] - a[1]) / k).toFixed(1) + ' ' +
         (c[0] - (e[0] - b[0]) / k).toFixed(1) + ' ' + (c[1] - (e[1] - b[1]) / k).toFixed(1) + ' ' +
         c[0].toFixed(1) + ' ' + c[1].toFixed(1);
  }
  return closed ? d + 'Z' : d;
}
function drawPanel(id, left, top, cbarTop, cbarBottom, cbarLabelY, fills, lines, labels, cbarTicks, cbarMax){
  const width = 890, height = 594;
  const right = left + width, bottom = top + height;
  const x = lat => left + (lat + 92) * width / 184;
  const y = theta => bottom - (theta - 310) * height / 290;
  const group = document.getElementById(id);
  const defs = make('defs', {}, group);
  const clip = make('clipPath', {id: id + '-clip'}, defs);
  make('rect', {x: left, y: top, width: width, height: height}, clip);
  const fillClip = make('clipPath', {id: id + '-fill-clip'}, defs);
  make('rect', {x: x(-90), y: top, width: x(90) - x(-90), height: y(339) - top}, fillClip);
  const plot = make('g', {'clip-path': 'url(#' + id + '-clip)'}, group);
  
  
  const fillGroup = make('g', {'clip-path': 'url(#' + id + '-fill-clip)'}, plot);
  
  

  fills.forEach(function(region){
    const level = region[0], coords = region[1], pts = [];
    for (let i = 0; i < coords.length; i += 2) pts.push([x(coords[i]), y(coords[i + 1])]);
    const fill = bandColors[level + 12];
    const path = make('path', {d: smoothPath(pts, true, !!region[2]), fill: fill}, fillGroup);
    
    
  });
  lines.forEach(function(line){
    const coords = line[2], pts = [];
    for (let i = 0; i < coords.length; i += 2) pts.push([x(coords[i]), y(coords[i + 1])]);
    const attrs = {d: smoothPath(pts, false, false), fill: 'none', stroke: '#6c727a', 'stroke-width': 2.1};
    if (line[1]) attrs['stroke-dasharray'] = '26 6';
    const path = make('path', attrs, plot);
    
    
  });
  const tropoPts = tropopauseLat.map((lat, i) => [x(lat), y(tropopauseTheta[i])]);
  const tropo = make('path', {d: smoothPath(tropoPts, false, false), fill: 'none', stroke: '#000', 'stroke-width': 8.5, 'stroke-dasharray': '21 13'}, plot);
  
  
  labels.forEach(function(item){
    const px = x(item[1]), py = y(item[2]);
    const t = make('text', {class: 'cl', 'text-anchor': 'middle', x: px, y: py + 10.5, transform: 'rotate(' + item[3] + ' ' + px + ' ' + py + ')'}, plot);
    t.textContent = item[0];
    
    
  });

  const frame = make('rect', {x: left, y: top, width: width, height: height, fill: 'none', stroke: '#222', 'stroke-width': 1.8}, group);
  
  
  latTicks.forEach(function(v){
    const px = x(v);
    const tb = make('path', {d: 'M' + px + ' ' + bottom + 'v-9M' + px + ' ' + top + 'v9', stroke: '#222', 'stroke-width': 1.8}, group);
    
    
    const t = make('text', {class: 'tick', 'text-anchor': 'middle', x: px - (v < 0 ? 8 : 0), y: bottom + 35}, group);
    t.textContent = (v < 0 ? '\u2212' : '') + Math.abs(v);
    
    
  });
  thetaTicks.forEach(function(v){
    const py = y(v);
    const tk = make('path', {d: 'M' + left + ' ' + py + 'h9M' + right + ' ' + py + 'h-9', stroke: '#222', 'stroke-width': 1.8}, group);
    
    
    const t = make('text', {class: 'tick', 'text-anchor': 'end', x: left - 6, y: py + 11}, group);
    t.textContent = v;
    
    
  });

  const cbar = make('g', {}, group);
  
  
  const segW = width / bandColors.length;
  bandColors.forEach(function(color, i){
    const seg = make('rect', {x: left + i * segW, y: cbarTop, width: segW + 0.4, height: cbarBottom - cbarTop, fill: color}, cbar);
    
    
  });
  const box = make('rect', {x: left, y: cbarTop, width: width, height: cbarBottom - cbarTop, fill: 'none', stroke: '#222', 'stroke-width': 1.8}, cbar);
  
  
  cbarTicks.forEach(function(v){
    const px = left + (v + cbarMax) / (2 * cbarMax) * width;
    if (Math.abs(v) !== cbarMax){
      const tk = make('path', {d: 'M' + px + ' ' + cbarTop + 'v9M' + px + ' ' + cbarBottom + 'v-9', stroke: '#222', 'stroke-width': 1.8}, cbar);
      
      
    }
    const t = make('text', {class: 'tick', 'text-anchor': 'middle', x: px - (v < 0 ? 9 : 0), y: cbarLabelY}, cbar);
    t.textContent = (v < 0 ? '\u2212' : '') + Math.abs(v);
    
    
  });
}
drawPanel('panel-a', 160, 123, 795, 837, 872, fillsA, linesA, labelsA, cbarTicksTop, 5);
drawPanel('panel-b', 1160, 123, 795, 837, 872, fillsB, linesB, labelsB, cbarTicksTop, 5);
drawPanel('panel-c', 160, 1024, 1695, 1737, 1771, fillsC, linesC, labelsC, cbarTicksBottom, 10);
drawPanel('panel-d', 1160, 1024, 1695, 1737, 1771, fillsD, linesD, labelsD, cbarTicksBottom, 10);
</script>
</body>
</html>
